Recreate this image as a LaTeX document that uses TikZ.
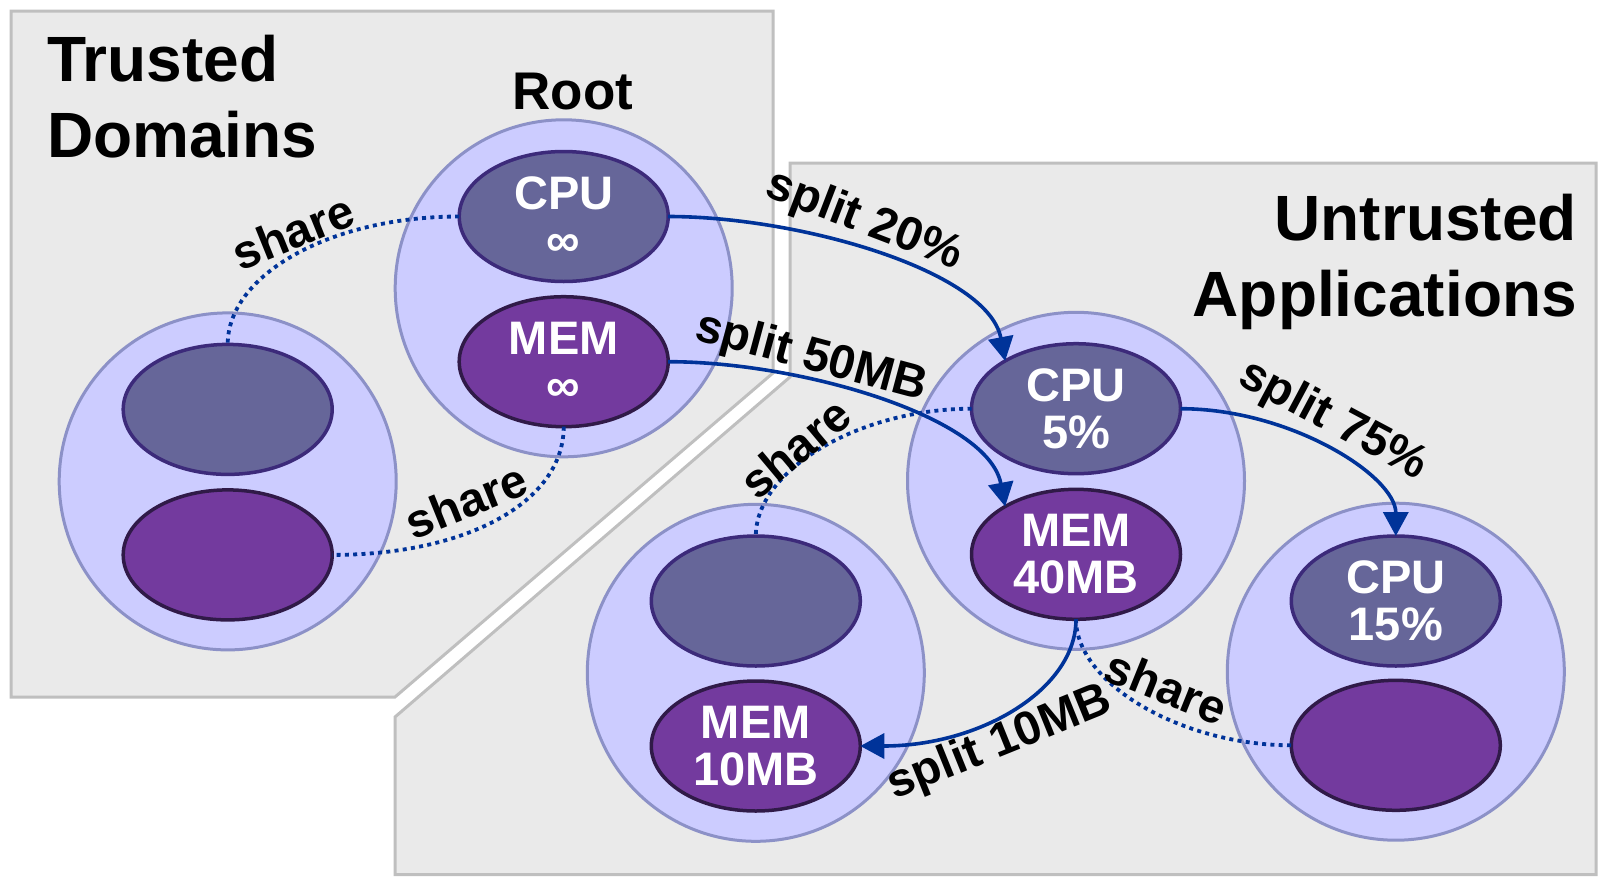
\documentclass[tikz,border=0pt]{standalone}
\usepackage{fontspec}
\setmainfont{Liberation Sans}
\usetikzlibrary{arrows.meta,shapes.geometric}

\definecolor{panelfill}{HTML}{EAEAEA}
\definecolor{panelline}{HTML}{BFBFBF}
\definecolor{domfill}{HTML}{CCCCFF}
\definecolor{domline}{HTML}{8C91C7}
\definecolor{cpufill}{HTML}{666699}
\definecolor{cpuline}{HTML}{3C2A7A}
\definecolor{memfill}{HTML}{733A9E}
\definecolor{memline}{HTML}{301A48}
\definecolor{linkblue}{HTML}{003399}

\newcommand\resfont{\fontsize{47}{47}\selectfont\bfseries}
\newcommand\lblfont{\fontsize{47.5}{50}\selectfont\bfseries}
\newcommand\headfont{\fontsize{64}{76}\selectfont\bfseries}

\tikzset{
  panel/.style={fill=panelfill, draw=panelline, line width=3pt, line join=miter},
  dom/.style={circle, fill=domfill, draw=domline, line width=3pt,
    minimum size=337pt, inner sep=0pt, outer sep=0pt},
  res/.style={ellipse, line width=3.5pt, minimum width=209pt, minimum height=130pt,
    inner sep=0pt, outer sep=0pt, text=white, font=\resfont, align=center},
  cpu/.style={res, fill=cpufill, draw=cpuline},
  mem/.style={res, fill=memfill, draw=memline},
  lbl/.style={font=\lblfont, text=black, inner sep=0pt},
  head/.style={font=\headfont, text=black, inner sep=0pt},
  split/.style={draw=linkblue, line width=3.6pt, -{Triangle[length=24pt,width=25pt]}},
  share/.style={draw=linkblue, line width=3.8pt, dash pattern=on 4pt off 4.3pt},
}

\begin{document}
\begin{tikzpicture}[x=1pt,y=1pt]
\useasboundingbox (0,0) rectangle (1601,-876);

% the two zones
\draw[panel] (11,-11) -- (773,-11) -- (773,-373) -- (395,-697) -- (11,-697) -- cycle;
\draw[panel] (790,-163) -- (1596,-163) -- (1596,-874.5) -- (395,-874.5) -- (395,-717) -- (790,-377) -- cycle;

% zone headings
\node[head, anchor=north west, align=left] (trusted) at (47,-34.9) {Trusted\\Domains};
\node[head, anchor=north east, align=right] (untrusted) at (1577,-194.2) {Untrusted\\Applications};
\node[font=\fontsize{53}{56}\selectfont\bfseries, inner sep=0pt, anchor=base] (roottitle) at (572.7,-109) {Root};

% domains
\node[dom] (root) at (563.7,-288.3) {};
\node[dom] (tdom) at (227.7,-481.4) {};
\node[dom] (app)  at (1076,-480.8) {};
\node[dom] (appl) at (755.8,-672.8) {};
\node[dom] (appr) at (1395.8,-671.7) {};

% resources
\node[cpu] (rcpu) at (563.7,-216.5) {CPU\\∞};
\node[mem] (rmem) at (563.7,-361.7) {MEM\\∞};
\node[cpu] (tcpu) at (227.7,-409.4) {};
\node[mem] (tmem) at (227.7,-554.9) {};
\node[cpu] (acpu) at (1076,-408.7) {CPU\\5\%};
\node[mem] (amem) at (1076,-554.3) {MEM\\40MB};
\node[cpu] (lcpu) at (755.8,-601) {};
\node[mem] (lmem) at (755.8,-746) {MEM\\10MB};
\node[cpu] (pcpu) at (1395.8,-601) {CPU\\15\%};
\node[mem] (pmem) at (1395.8,-745.3) {};

% sharing links
\draw[share] (rcpu.west) .. controls +(-128,0) and +(0,70) .. (tcpu.north);
\draw[share] (rmem.south) .. controls +(0,-75) and +(135,0) .. (tmem.east);
\draw[share] (acpu.west) .. controls +(-112,0) and +(0,66) .. (lcpu.north);
\draw[share] (amem.south) .. controls +(0,-64) and +(-110,0) .. (pmem.west);

% splitting links
\draw[split] (rcpu.east) .. controls +(131,0) and +(-17,90) .. (acpu.146);
\draw[split] (rmem.east) .. controls +(131,0) and +(-17,90) .. (amem.146);
\draw[split] (acpu.east) .. controls +(110,0) and +(0,60) .. (pcpu.north);
\draw[split] (amem.south) .. controls +(0,-70) and +(120,0) .. (lmem.east);

% link labels
\node[lbl, rotate=-21] (l20) at (864,-221) {split 20\%};
\node[lbl, rotate=-15] (l50) at (811,-358) {split 50MB};
\node[lbl, rotate=-28] (l75) at (1333,-421) {split 75\%};
\node[lbl, rotate=22] (l10) at (1000,-744) {split 10MB};
\node[lbl, rotate=22] (s1) at (293,-232) {share};
\node[lbl, rotate=22] (s2) at (466,-501) {share};
\node[lbl, rotate=40] (s3) at (795,-448) {share};
\node[lbl, rotate=-22] (s4) at (1167,-687) {share};
\end{tikzpicture}
\end{document}
